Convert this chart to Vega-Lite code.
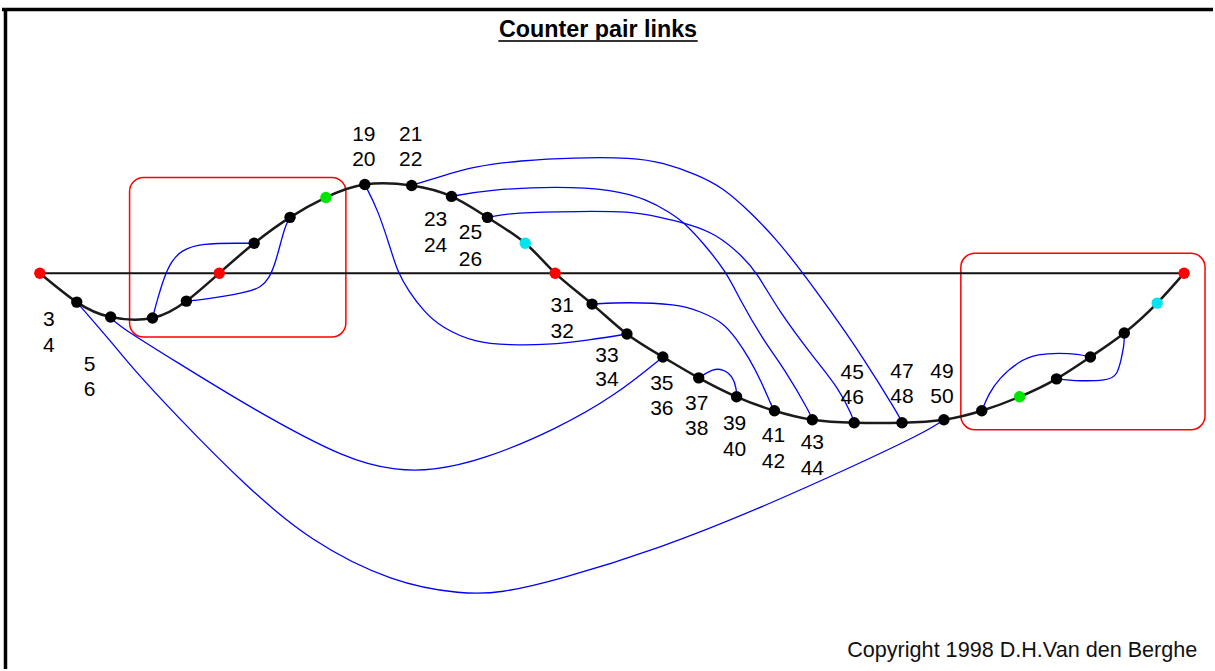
{
  "$schema": "https://vega.github.io/schema/vega-lite/v6.json",
  "width": 1215,
  "height": 671,
  "autosize": {"type": "fit", "contains": "padding"},
  "padding": 0,
  "background": "white",
  "config": {"view": {"stroke": null}},
  "datasets": {
    "frame": [
      {"part": "top", "x": 0, "x2": 1215, "y": 9.5, "y2": 9.5},
      {"part": "left", "x": 3.5, "x2": 3.5, "y": 8, "y2": 671}
    ],
    "boxes": [
      {"box": "left", "x": 128, "x2": 345, "y": 178, "y2": 338},
      {"box": "right", "x": 962, "x2": 1207, "y": 254, "y2": 431}
    ],
    "baseline": [
      {"x": 38, "x2": 1186, "y": 274, "y2": 274}
    ],
    "nodes": [
      {"seq": 1, "x": 38, "y": 274, "kind": "zero"},
      {"seq": 2, "x": 75, "y": 303, "kind": "counter"},
      {"seq": 3, "x": 109, "y": 318, "kind": "counter"},
      {"seq": 4, "x": 151, "y": 319, "kind": "counter"},
      {"seq": 5, "x": 185, "y": 302, "kind": "counter"},
      {"seq": 6, "x": 218, "y": 274, "kind": "zero"},
      {"seq": 7, "x": 253, "y": 244, "kind": "counter"},
      {"seq": 8, "x": 289, "y": 218, "kind": "counter"},
      {"seq": 9, "x": 325, "y": 198, "kind": "green"},
      {"seq": 10, "x": 364, "y": 185, "kind": "counter"},
      {"seq": 11, "x": 411, "y": 186, "kind": "counter"},
      {"seq": 12, "x": 451, "y": 197, "kind": "counter"},
      {"seq": 13, "x": 487, "y": 218, "kind": "counter"},
      {"seq": 14, "x": 525, "y": 244, "kind": "cyan"},
      {"seq": 15, "x": 555, "y": 274, "kind": "zero"},
      {"seq": 16, "x": 592, "y": 305, "kind": "counter"},
      {"seq": 17, "x": 627, "y": 335, "kind": "counter"},
      {"seq": 18, "x": 663, "y": 358, "kind": "counter"},
      {"seq": 19, "x": 699, "y": 379, "kind": "counter"},
      {"seq": 20, "x": 737, "y": 398, "kind": "counter"},
      {"seq": 21, "x": 775, "y": 412, "kind": "counter"},
      {"seq": 22, "x": 813, "y": 421, "kind": "counter"},
      {"seq": 23, "x": 855, "y": 424, "kind": "counter"},
      {"seq": 24, "x": 903, "y": 424, "kind": "counter"},
      {"seq": 25, "x": 945, "y": 421, "kind": "counter"},
      {"seq": 26, "x": 983, "y": 412, "kind": "counter"},
      {"seq": 27, "x": 1021, "y": 398, "kind": "green"},
      {"seq": 28, "x": 1058, "y": 380, "kind": "counter"},
      {"seq": 29, "x": 1092, "y": 358, "kind": "counter"},
      {"seq": 30, "x": 1126, "y": 334, "kind": "counter"},
      {"seq": 31, "x": 1159, "y": 304, "kind": "cyan"},
      {"seq": 32, "x": 1186, "y": 274, "kind": "zero"}
    ],
    "links": [
      {"link": "a", "seq": 1, "x": 151, "y": 319},
      {"link": "a", "seq": 2, "x": 156, "y": 300},
      {"link": "a", "seq": 3, "x": 163, "y": 277},
      {"link": "a", "seq": 4, "x": 170, "y": 262},
      {"link": "a", "seq": 5, "x": 180, "y": 251},
      {"link": "a", "seq": 6, "x": 200, "y": 244},
      {"link": "a", "seq": 7, "x": 240, "y": 244},
      {"link": "a", "seq": 8, "x": 253, "y": 244},

      {"link": "b", "seq": 1, "x": 185, "y": 302},
      {"link": "b", "seq": 2, "x": 200, "y": 301},
      {"link": "b", "seq": 3, "x": 247, "y": 293},
      {"link": "b", "seq": 4, "x": 260, "y": 288},
      {"link": "b", "seq": 5, "x": 268, "y": 279},
      {"link": "b", "seq": 6, "x": 274, "y": 265},
      {"link": "b", "seq": 7, "x": 281, "y": 238},
      {"link": "b", "seq": 8, "x": 285, "y": 225},
      {"link": "b", "seq": 9, "x": 289, "y": 218},

      {"link": "c", "seq": 1, "x": 983, "y": 412},
      {"link": "c", "seq": 2, "x": 990, "y": 395},
      {"link": "c", "seq": 3, "x": 1000, "y": 380},
      {"link": "c", "seq": 4, "x": 1020, "y": 362},
      {"link": "c", "seq": 5, "x": 1040, "y": 355},
      {"link": "c", "seq": 6, "x": 1060, "y": 354},
      {"link": "c", "seq": 7, "x": 1080, "y": 355},
      {"link": "c", "seq": 8, "x": 1092, "y": 358},

      {"link": "d", "seq": 1, "x": 1058, "y": 380},
      {"link": "d", "seq": 2, "x": 1073, "y": 382},
      {"link": "d", "seq": 3, "x": 1110, "y": 382},
      {"link": "d", "seq": 4, "x": 1119, "y": 376},
      {"link": "d", "seq": 5, "x": 1123, "y": 360},
      {"link": "d", "seq": 6, "x": 1126, "y": 345},
      {"link": "d", "seq": 7, "x": 1126, "y": 334},

      {"link": "e", "seq": 1, "x": 75, "y": 303},
      {"link": "e", "seq": 2, "x": 114, "y": 348},
      {"link": "e", "seq": 3, "x": 129, "y": 367},
      {"link": "e", "seq": 4, "x": 175, "y": 417},
      {"link": "e", "seq": 5, "x": 244, "y": 487},
      {"link": "e", "seq": 6, "x": 309, "y": 543},
      {"link": "e", "seq": 7, "x": 393, "y": 585},
      {"link": "e", "seq": 8, "x": 462, "y": 596},
      {"link": "e", "seq": 9, "x": 500, "y": 595},
      {"link": "e", "seq": 10, "x": 557, "y": 582},
      {"link": "e", "seq": 11, "x": 660, "y": 550},
      {"link": "e", "seq": 12, "x": 760, "y": 510},
      {"link": "e", "seq": 13, "x": 860, "y": 465},
      {"link": "e", "seq": 14, "x": 927, "y": 433},
      {"link": "e", "seq": 15, "x": 945, "y": 421},

      {"link": "f", "seq": 1, "x": 109, "y": 318},
      {"link": "f", "seq": 2, "x": 114, "y": 325},
      {"link": "f", "seq": 3, "x": 175, "y": 363},
      {"link": "f", "seq": 4, "x": 251, "y": 410},
      {"link": "f", "seq": 5, "x": 347, "y": 462},
      {"link": "f", "seq": 6, "x": 397, "y": 472},
      {"link": "f", "seq": 7, "x": 431, "y": 472},
      {"link": "f", "seq": 8, "x": 481, "y": 462},
      {"link": "f", "seq": 9, "x": 557, "y": 430},
      {"link": "f", "seq": 10, "x": 615, "y": 397},
      {"link": "f", "seq": 11, "x": 663, "y": 358},

      {"link": "g", "seq": 1, "x": 364, "y": 185},
      {"link": "g", "seq": 2, "x": 377, "y": 210},
      {"link": "g", "seq": 3, "x": 390, "y": 250},
      {"link": "g", "seq": 4, "x": 397, "y": 273},
      {"link": "g", "seq": 5, "x": 408, "y": 292},
      {"link": "g", "seq": 6, "x": 423, "y": 312},
      {"link": "g", "seq": 7, "x": 440, "y": 328},
      {"link": "g", "seq": 8, "x": 475, "y": 344},
      {"link": "g", "seq": 9, "x": 510, "y": 346},
      {"link": "g", "seq": 10, "x": 546, "y": 346},
      {"link": "g", "seq": 11, "x": 590, "y": 341},
      {"link": "g", "seq": 12, "x": 627, "y": 335},

      {"link": "h", "seq": 1, "x": 411, "y": 186},
      {"link": "h", "seq": 2, "x": 440, "y": 177},
      {"link": "h", "seq": 3, "x": 473, "y": 167},
      {"link": "h", "seq": 4, "x": 520, "y": 161},
      {"link": "h", "seq": 5, "x": 573, "y": 158},
      {"link": "h", "seq": 6, "x": 633, "y": 158},
      {"link": "h", "seq": 7, "x": 663, "y": 163},
      {"link": "h", "seq": 8, "x": 697, "y": 175},
      {"link": "h", "seq": 9, "x": 723, "y": 188},
      {"link": "h", "seq": 10, "x": 750, "y": 212},
      {"link": "h", "seq": 11, "x": 777, "y": 240},
      {"link": "h", "seq": 12, "x": 803, "y": 273},
      {"link": "h", "seq": 13, "x": 830, "y": 310},
      {"link": "h", "seq": 14, "x": 863, "y": 357},
      {"link": "h", "seq": 15, "x": 900, "y": 417},
      {"link": "h", "seq": 16, "x": 903, "y": 424},

      {"link": "i", "seq": 1, "x": 451, "y": 197},
      {"link": "i", "seq": 2, "x": 490, "y": 190},
      {"link": "i", "seq": 3, "x": 557, "y": 187},
      {"link": "i", "seq": 4, "x": 613, "y": 190},
      {"link": "i", "seq": 5, "x": 647, "y": 200},
      {"link": "i", "seq": 6, "x": 670, "y": 213},
      {"link": "i", "seq": 7, "x": 683, "y": 222},
      {"link": "i", "seq": 8, "x": 703, "y": 243},
      {"link": "i", "seq": 9, "x": 727, "y": 273},
      {"link": "i", "seq": 10, "x": 740, "y": 300},
      {"link": "i", "seq": 11, "x": 763, "y": 340},
      {"link": "i", "seq": 12, "x": 787, "y": 373},
      {"link": "i", "seq": 13, "x": 810, "y": 413},
      {"link": "i", "seq": 14, "x": 813, "y": 421},

      {"link": "j", "seq": 1, "x": 487, "y": 218},
      {"link": "j", "seq": 2, "x": 513, "y": 213},
      {"link": "j", "seq": 3, "x": 580, "y": 212},
      {"link": "j", "seq": 4, "x": 630, "y": 212},
      {"link": "j", "seq": 5, "x": 657, "y": 217},
      {"link": "j", "seq": 6, "x": 690, "y": 225},
      {"link": "j", "seq": 7, "x": 717, "y": 235},
      {"link": "j", "seq": 8, "x": 743, "y": 257},
      {"link": "j", "seq": 9, "x": 757, "y": 273},
      {"link": "j", "seq": 10, "x": 780, "y": 313},
      {"link": "j", "seq": 11, "x": 813, "y": 357},
      {"link": "j", "seq": 12, "x": 840, "y": 390},
      {"link": "j", "seq": 13, "x": 853, "y": 417},
      {"link": "j", "seq": 14, "x": 855, "y": 424},

      {"link": "k", "seq": 1, "x": 592, "y": 305},
      {"link": "k", "seq": 2, "x": 627, "y": 303},
      {"link": "k", "seq": 3, "x": 677, "y": 305},
      {"link": "k", "seq": 4, "x": 700, "y": 312},
      {"link": "k", "seq": 5, "x": 723, "y": 323},
      {"link": "k", "seq": 6, "x": 737, "y": 340},
      {"link": "k", "seq": 7, "x": 750, "y": 360},
      {"link": "k", "seq": 8, "x": 762, "y": 383},
      {"link": "k", "seq": 9, "x": 772, "y": 407},
      {"link": "k", "seq": 10, "x": 775, "y": 412},

      {"link": "l", "seq": 1, "x": 699, "y": 379},
      {"link": "l", "seq": 2, "x": 713, "y": 370},
      {"link": "l", "seq": 3, "x": 723, "y": 370},
      {"link": "l", "seq": 4, "x": 733, "y": 377},
      {"link": "l", "seq": 5, "x": 737, "y": 390},
      {"link": "l", "seq": 6, "x": 737, "y": 398}
    ],
    "labels": [
      {"label": "3", "x": 47, "y": 327}, {"label": "4", "x": 47, "y": 353},
      {"label": "5", "x": 88, "y": 372}, {"label": "6", "x": 88, "y": 397},
      {"label": "19", "x": 363, "y": 141}, {"label": "20", "x": 363, "y": 166},
      {"label": "21", "x": 410, "y": 141}, {"label": "22", "x": 410, "y": 166},
      {"label": "23", "x": 435, "y": 227}, {"label": "24", "x": 435, "y": 253},
      {"label": "25", "x": 470, "y": 240}, {"label": "26", "x": 470, "y": 267},
      {"label": "31", "x": 562, "y": 313}, {"label": "32", "x": 562, "y": 339},
      {"label": "33", "x": 607, "y": 363}, {"label": "34", "x": 607, "y": 387},
      {"label": "35", "x": 662, "y": 391}, {"label": "36", "x": 662, "y": 416},
      {"label": "37", "x": 697, "y": 411}, {"label": "38", "x": 697, "y": 436},
      {"label": "39", "x": 735, "y": 431}, {"label": "40", "x": 735, "y": 457},
      {"label": "41", "x": 774, "y": 443}, {"label": "42", "x": 774, "y": 469},
      {"label": "43", "x": 813, "y": 450}, {"label": "44", "x": 813, "y": 476},
      {"label": "45", "x": 853, "y": 380}, {"label": "46", "x": 853, "y": 405},
      {"label": "47", "x": 903, "y": 379}, {"label": "48", "x": 903, "y": 404},
      {"label": "49", "x": 943, "y": 379}, {"label": "50", "x": 943, "y": 404}
    ],
    "title": [
      {"text": "Counter pair links", "x": 598, "y": 37, "x1": 498, "x2": 698, "yu": 41}
    ],
    "credit": [
      {"text": "Copyright 1998 D.H.Van den Berghe", "x": 848, "y": 659}
    ]
  },
  "encoding": {
    "x": {"field": "x", "type": "quantitative", "scale": {"domain": [0, 1215], "nice": false, "zero": false}, "axis": null},
    "y": {"field": "y", "type": "quantitative", "scale": {"domain": [0, 671], "nice": false, "zero": false, "reverse": true}, "axis": null}
  },
  "layer": [
    {
      "data": {"name": "frame"},
      "mark": {"type": "rule", "color": "#000000", "strokeWidth": 3.5},
      "encoding": {"x2": {"field": "x2"}, "y2": {"field": "y2"}}
    },
    {
      "data": {"name": "boxes"},
      "mark": {"type": "rect", "filled": false, "stroke": "#ff0000", "strokeWidth": 1.5, "cornerRadius": 14},
      "encoding": {"x2": {"field": "x2"}, "y2": {"field": "y2"}}
    },
    {
      "data": {"name": "baseline"},
      "mark": {"type": "rule", "color": "#111111", "strokeWidth": 2},
      "encoding": {"x2": {"field": "x2"}, "y2": {"field": "y2"}}
    },
    {
      "data": {"name": "links"},
      "mark": {"type": "line", "interpolate": "basis", "color": "#0000ff", "strokeWidth": 1.3},
      "encoding": {"detail": {"field": "link"}, "order": {"field": "seq", "type": "quantitative"}}
    },
    {
      "data": {"name": "nodes"},
      "mark": {"type": "line", "interpolate": "natural", "color": "#1a1a1a", "strokeWidth": 2.5},
      "encoding": {"order": {"field": "seq", "type": "quantitative"}}
    },
    {
      "data": {"name": "nodes"},
      "mark": {"type": "circle", "size": 130, "opacity": 1},
      "encoding": {
        "color": {"field": "kind", "type": "nominal", "legend": null,
          "scale": {"domain": ["counter", "zero", "green", "cyan"], "range": ["#000000", "#ff0000", "#00e600", "#00e5f0"]}}
      }
    },
    {
      "data": {"name": "labels"},
      "mark": {"type": "text", "font": "Liberation Sans", "fontSize": 21, "align": "center", "baseline": "alphabetic", "color": "#000000"},
      "encoding": {"text": {"field": "label"}}
    },
    {
      "data": {"name": "title"},
      "mark": {"type": "text", "font": "Liberation Sans", "fontWeight": "bold", "fontSize": 23.3, "align": "center", "baseline": "alphabetic", "color": "#000000"},
      "encoding": {"text": {"field": "text"}}
    },
    {
      "data": {"name": "title"},
      "mark": {"type": "rule", "color": "#333333", "strokeWidth": 2},
      "encoding": {"x": {"field": "x1", "type": "quantitative"}, "x2": {"field": "x2"}, "y": {"field": "yu", "type": "quantitative"}}
    },
    {
      "data": {"name": "credit"},
      "mark": {"type": "text", "font": "Liberation Sans", "fontSize": 21.6, "align": "left", "baseline": "alphabetic", "color": "#111111"},
      "encoding": {"text": {"field": "text"}}
    }
  ]
}
